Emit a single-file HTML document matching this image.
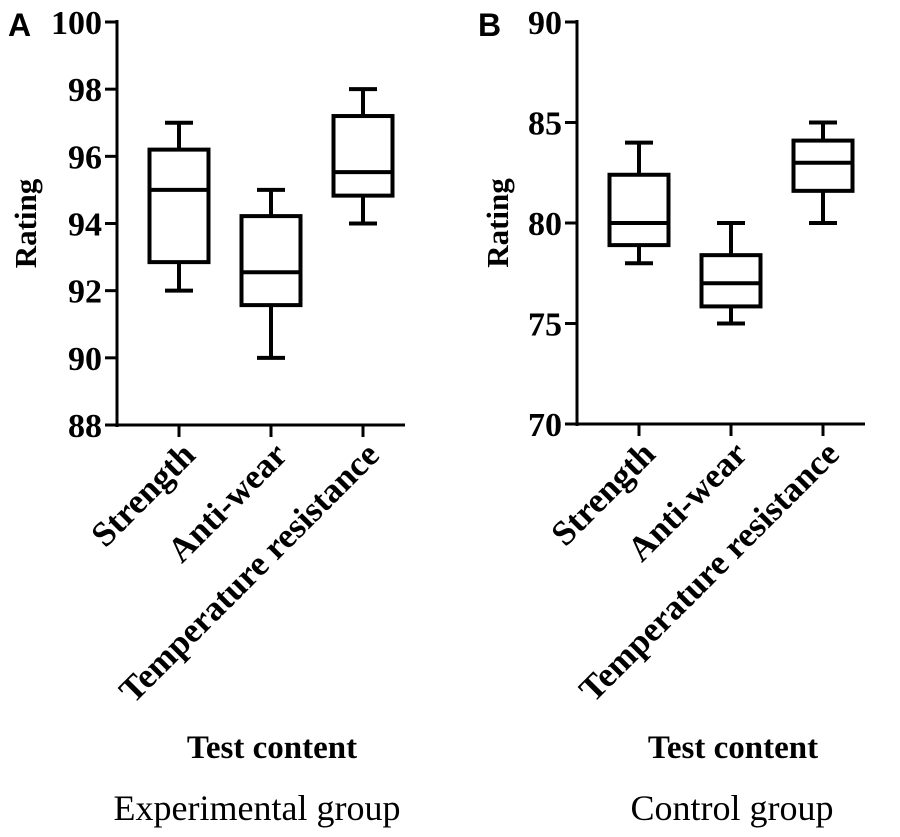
<!DOCTYPE html>
<html><head><meta charset="utf-8"><style>
body{margin:0;background:#fff;}
svg text{font-family:"Liberation Serif",serif;fill:#000;}
</style></head><body>
<svg id="chart" width="900" height="832" viewBox="0 0 900 832" xmlns="http://www.w3.org/2000/svg">
<text x="8" y="36" style="font-family:'Liberation Sans',sans-serif;font-weight:bold;font-size:32px">A</text>
<text x="478" y="36" style="font-family:'Liberation Sans',sans-serif;font-weight:bold;font-size:32px">B</text>
</svg>
<script>
const categories = ["Strength", "Anti-wear", "Temperature resistance"];
// [min, q1, median, q3, max]
const expValues = [[92, 92.85, 95.0, 96.2, 97], [90, 91.57, 92.55, 94.22, 95], [94, 94.83, 95.53, 97.2, 98]];
const ctrlValues = [[78, 78.9, 80, 82.4, 84], [75, 75.85, 77.0, 78.4, 80], [80, 81.6, 83.0, 84.1, 85]];
const expTicks = [88, 90, 92, 94, 96, 98, 100];
const ctrlTicks = [70, 75, 80, 85, 90];

const svg = document.getElementById('chart');
const NS = 'http://www.w3.org/2000/svg';
function mk(tag, attrs, parent) {
  const e = document.createElementNS(NS, tag);
  for (const k in attrs) e.setAttribute(k, attrs[k]);
  (parent || svg).appendChild(e);
  return e;
}
function panel(cfg) {
  const g = mk('g', {});
  
  
  const y = v => cfg.y0 - (v - cfg.min) / (cfg.max - cfg.min) * (cfg.y0 - cfg.y1);
  const x = i => cfg.cx[i];
  const ya = mk('line', {x1: cfg.ax, x2: cfg.ax, y1: cfg.y1 - 2, y2: cfg.y0 + 2, stroke: '#000', 'stroke-width': 3}, g);
  
  
  const xa = mk('line', {x1: cfg.ax - 12, x2: cfg.axEnd, y1: cfg.y0, y2: cfg.y0, stroke: '#000', 'stroke-width': 3}, g);
  
  
  cfg.ticks.forEach(t => {
    mk('line', {x1: cfg.ax - 12, x2: cfg.ax, y1: y(t), y2: y(t), stroke: '#000', 'stroke-width': 3}, g);
    const tx = mk('text', {x: cfg.ax - 15, y: y(t) + 12, 'text-anchor': 'end', 'font-weight': 'bold', 'font-size': 34}, g);
    tx.textContent = t;
    
    
  });
  const yl = mk('text', {transform: `translate(${cfg.ratingX},${(cfg.y0 + cfg.y1) / 2}) rotate(-90)`, 'text-anchor': 'middle', 'font-weight': 'bold', 'font-size': 31}, g);
  yl.textContent = 'Rating';
  
  
  categories.forEach((c, i) => {
    mk('line', {x1: x(i), x2: x(i), y1: cfg.y0, y2: cfg.y0 + 12, stroke: '#000', 'stroke-width': 3}, g);
    const lab = mk('text', {transform: `translate(${x(i) + 18},${cfg.y0 + 32}) rotate(-45)`, 'text-anchor': 'end', 'font-weight': 'bold', 'font-size': 35}, g);
    lab.textContent = c;
    
    
    const v = cfg.values[i];
    const bg = mk('g', {stroke: '#000', 'stroke-width': 4, fill: 'none'}, g);
    
    
    const hw = 29.5, cw = 14;
    mk('line', {x1: x(i), x2: x(i), y1: y(v[4]), y2: y(v[3])}, bg);
    mk('line', {x1: x(i), x2: x(i), y1: y(v[1]), y2: y(v[0])}, bg);
    mk('line', {x1: x(i) - cw, x2: x(i) + cw, y1: y(v[4]), y2: y(v[4])}, bg);
    mk('line', {x1: x(i) - cw, x2: x(i) + cw, y1: y(v[0]), y2: y(v[0])}, bg);
    mk('rect', {x: x(i) - hw, y: y(v[3]), width: 2 * hw, height: y(v[1]) - y(v[3])}, bg);
    mk('line', {x1: x(i) - hw, x2: x(i) + hw, y1: y(v[2]), y2: y(v[2])}, bg);
  });
  const xt = mk('text', {x: cfg.titleX, y: 758, 'text-anchor': 'middle', 'font-weight': 'bold', 'font-size': 33}, g);
  xt.textContent = 'Test content';
  
  
  const gt = mk('text', {x: cfg.groupX, y: 820, 'text-anchor': 'middle', 'font-size': 36}, g);
  gt.textContent = cfg.group;
  
  
}
panel({name: 'panel-experimental', values: expValues, ticks: expTicks, min: 88, max: 100, y0: 425, y1: 22, ax: 117, axEnd: 405, cx: [179, 271, 363], titleX: 272, groupX: 257, ratingX: 36, group: 'Experimental group'});
panel({name: 'panel-control', values: ctrlValues, ticks: ctrlTicks, min: 70, max: 90, y0: 424, y1: 22, ax: 577, axEnd: 865, cx: [639, 731, 823], titleX: 733, groupX: 732, ratingX: 508, group: 'Control group'});
</script>
</body></html>
